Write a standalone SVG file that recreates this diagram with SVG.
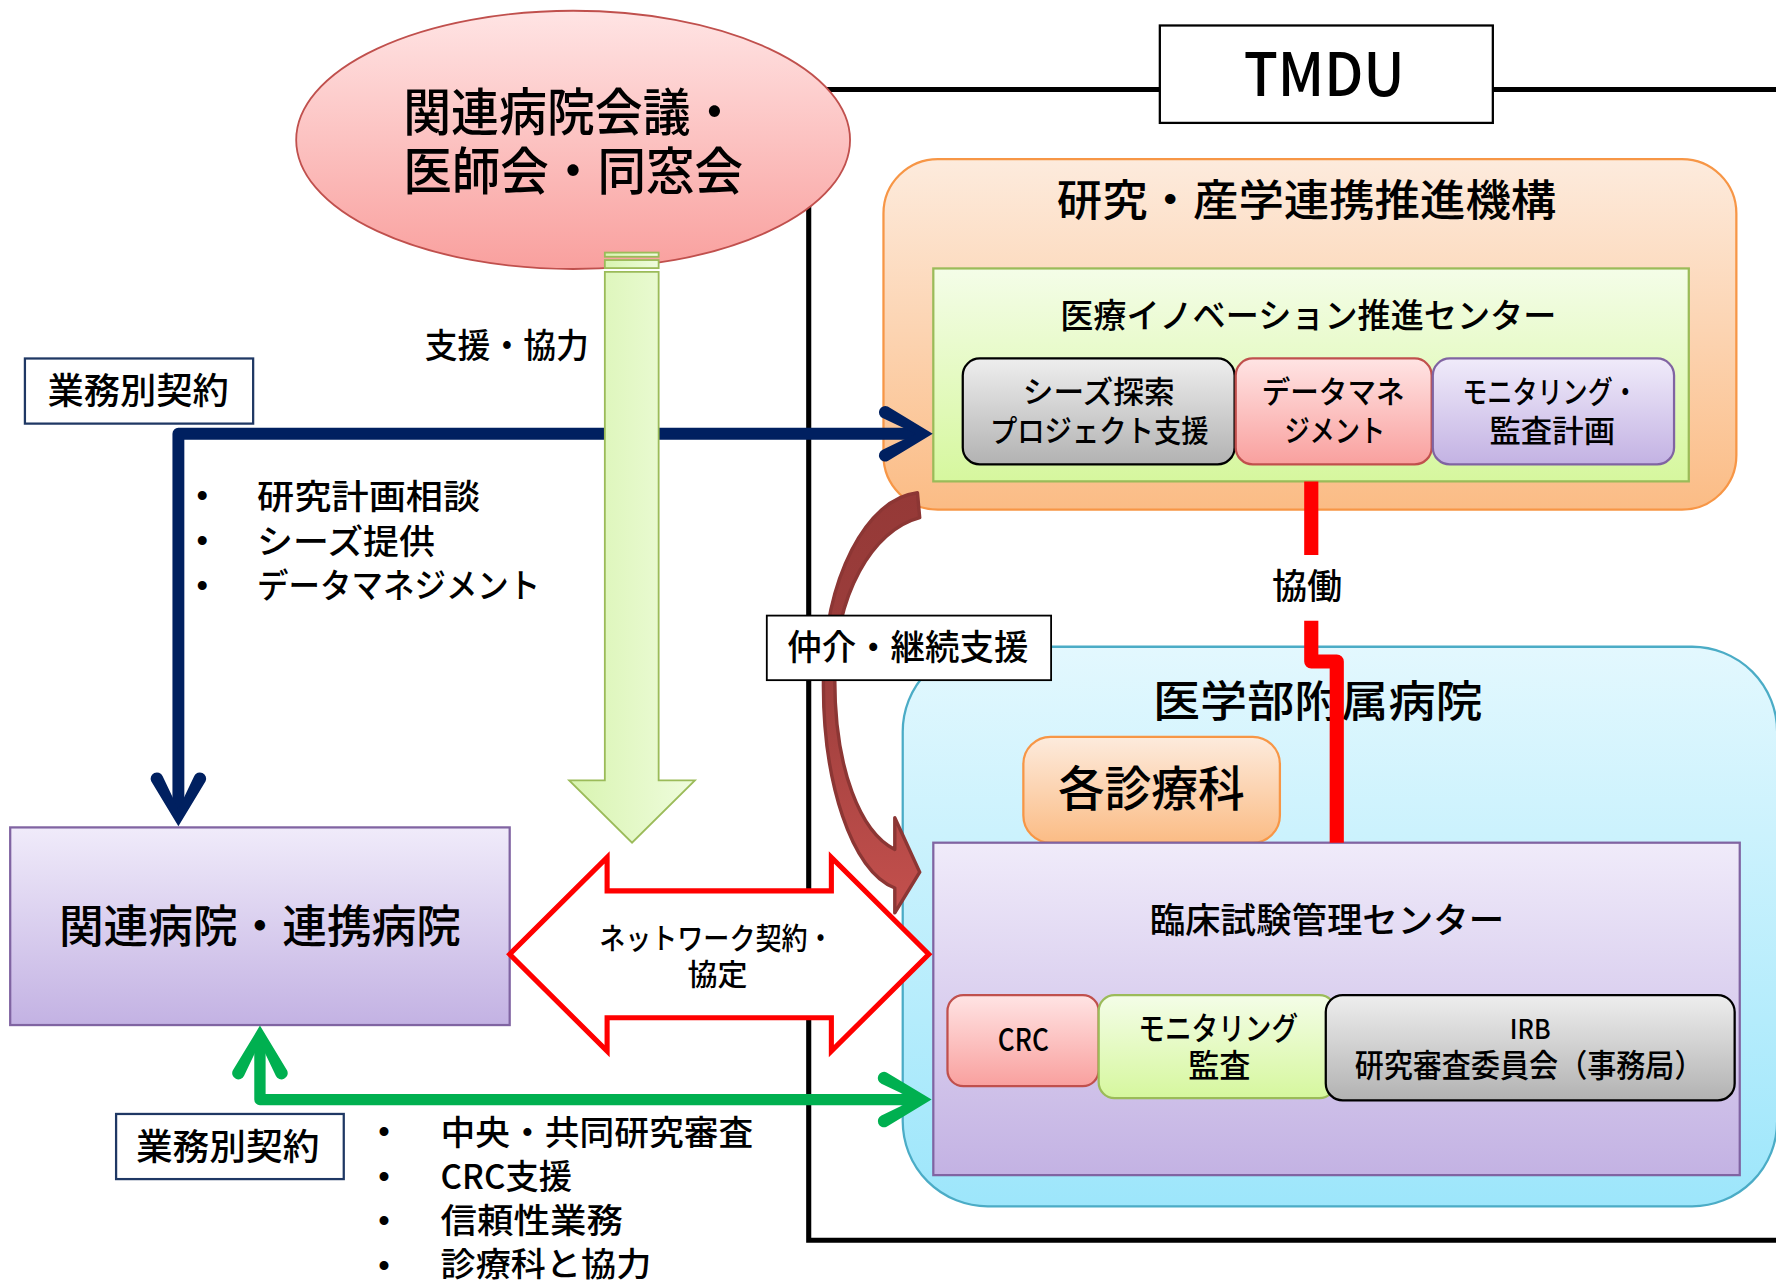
<svg xmlns="http://www.w3.org/2000/svg" xmlns:xlink="http://www.w3.org/1999/xlink" width="1776" height="1284" viewBox="0 0 1776 1284">
<defs>
<linearGradient id="gPink" x1="0" y1="0" x2="0" y2="1"><stop offset="0" stop-color="#FFE4E4"/><stop offset="1" stop-color="#F9A09E"/></linearGradient>
<linearGradient id="gOrange" x1="0" y1="0" x2="0" y2="1"><stop offset="0" stop-color="#FDEBDD"/><stop offset="1" stop-color="#FBBC85"/></linearGradient>
<linearGradient id="gLime" x1="0" y1="0" x2="0" y2="1"><stop offset="0" stop-color="#F4FDE8"/><stop offset="1" stop-color="#D6F79E"/></linearGradient>
<linearGradient id="gGray" x1="0" y1="0" x2="0" y2="1"><stop offset="0" stop-color="#EEEEEE"/><stop offset="1" stop-color="#B2B2B2"/></linearGradient>
<linearGradient id="gLav" x1="0" y1="0" x2="0" y2="1"><stop offset="0" stop-color="#F0EBFA"/><stop offset="1" stop-color="#C3B2E3"/></linearGradient>
<linearGradient id="gBlue" x1="0" y1="0" x2="0" y2="1"><stop offset="0" stop-color="#E3F8FE"/><stop offset="1" stop-color="#9DE6FB"/></linearGradient>
<linearGradient id="gArrow" x1="0" y1="0" x2="1" y2="0"><stop offset="0" stop-color="#D8F4B0"/><stop offset="1" stop-color="#EFFCDD"/></linearGradient>
<linearGradient id="gBrown" x1="0" y1="0" x2="0" y2="1"><stop offset="0" stop-color="#953937"/><stop offset="0.45" stop-color="#9E3F3D"/><stop offset="1" stop-color="#C4504D"/></linearGradient>
<path id="head" d="M0,0 L-39.7,-24 A5.5,5.5 0 0 0 -44.3,-14 L-15,0 L-44.3,14 A5.5,5.5 0 0 0 -39.7,24 Z"/>
</defs>
<style>
text{font-family:"Noto Sans CJK JP","Noto Sans",sans-serif;font-weight:500;fill:#000}
.b{font-family:"Liberation Sans",sans-serif;font-size:29px;font-weight:400}
.frame{fill:none;stroke:#000;stroke-width:4.5}
.lbl{fill:#fff;stroke:#000;stroke-width:1.6}
.lbn{fill:#fff;stroke:#1F3864;stroke-width:2}
.box{stroke-width:2}
</style>
<rect width="1776" height="1284" fill="#fff"/>
<g transform="scale(1.132653)">
<g id="tmdu">
<path class="frame" d="M1580,79 H714 V1095 H1580"/>
<rect x="1024" y="22.5" width="294" height="86" fill="#fff" stroke="#000" stroke-width="2"/>
<text x="1098" y="85" font-size="53" textLength="142" lengthAdjust="spacingAndGlyphs">TMDU</text>
</g>
<g id="council">
<ellipse cx="506" cy="123.5" rx="244.5" ry="114" fill="url(#gPink)" stroke="#C0504D" stroke-width="1.6"/>
<text x="356" y="116" font-size="45" textLength="296" lengthAdjust="spacingAndGlyphs">関連病院会議・</text>
<text x="356" y="168" font-size="45" textLength="300" lengthAdjust="spacingAndGlyphs">医師会・同窓会</text>
</g>
<g id="org">
<rect class="box" x="780" y="140.5" width="753" height="309.5" rx="48" fill="url(#gOrange)" stroke="#F79646"/>
<text x="933" y="191" font-size="38" textLength="441" lengthAdjust="spacingAndGlyphs">研究・産学連携推進機構</text>
</g>
<g id="innovation">
<rect class="box" x="824" y="237" width="667" height="188" fill="url(#gLime)" stroke="#9BBB59"/>
<text x="936" y="290" font-size="30" textLength="438" lengthAdjust="spacingAndGlyphs">医療イノベーション推進センター</text>
</g>
<g id="seeds">
<rect class="box" x="850" y="316.5" width="240" height="93.5" rx="15" fill="url(#gGray)" stroke="#000"/>
<text x="903" y="356" font-size="27" textLength="134" lengthAdjust="spacingAndGlyphs">シーズ探索</text>
<text x="874" y="390" font-size="27" textLength="193" lengthAdjust="spacingAndGlyphs">プロジェクト支援</text>
</g>
<g id="datamgmt">
<rect class="box" x="1091" y="316.5" width="173" height="93.5" rx="15" fill="url(#gPink)" stroke="#C0504D"/>
<text x="1114" y="356" font-size="27" textLength="126" lengthAdjust="spacingAndGlyphs">データマネ</text>
<text x="1134" y="390" font-size="27" textLength="89" lengthAdjust="spacingAndGlyphs">ジメント</text>
</g>
<g id="monitorplan">
<rect class="box" x="1265" y="316.5" width="213" height="93.5" rx="15" fill="url(#gLav)" stroke="#8064A2"/>
<text x="1291" y="356" font-size="27" textLength="155" lengthAdjust="spacingAndGlyphs">モニタリング・</text>
<text x="1315" y="390" font-size="27" textLength="111" lengthAdjust="spacingAndGlyphs">監査計画</text>
</g>
<g id="hospital">
<rect class="box" x="797" y="571" width="772" height="494" rx="75" fill="url(#gBlue)" stroke="#4BACC6"/>
<text x="1018" y="633" font-size="38" textLength="291" lengthAdjust="spacingAndGlyphs">医学部附属病院</text>
</g>
<g id="depts">
<rect class="box" x="903.5" y="650.5" width="226.5" height="93.5" rx="24" fill="url(#gOrange)" stroke="#F79646"/>
<text x="934" y="712" font-size="42" textLength="165" lengthAdjust="spacingAndGlyphs">各診療科</text>
</g>
<g id="ctmc">
<rect class="box" x="824" y="744" width="712" height="293.5" fill="url(#gLav)" stroke="#8064A2"/>
<text x="1015" y="824" font-size="31" textLength="313" lengthAdjust="spacingAndGlyphs">臨床試験管理センター</text>
</g>
<g id="crc">
<rect class="box" x="836.5" y="878.5" width="133.5" height="80.5" rx="14" fill="url(#gPink)" stroke="#C0504D"/>
<text x="881" y="928" font-size="27" textLength="45" lengthAdjust="spacingAndGlyphs">CRC</text>
</g>
<g id="monaudit">
<rect class="box" x="970" y="878.5" width="209" height="91" rx="14" fill="url(#gLime)" stroke="#9BBB59"/>
<text x="1005" y="918" font-size="28" textLength="141" lengthAdjust="spacingAndGlyphs">モニタリング</text>
<text x="1049" y="951" font-size="28" textLength="55" lengthAdjust="spacingAndGlyphs">監査</text>
</g>
<g id="irb">
<rect class="box" x="1170.5" y="878.5" width="361" height="93" rx="15" fill="url(#gGray)" stroke="#000"/>
<text x="1333" y="917" font-size="24" textLength="36" lengthAdjust="spacingAndGlyphs">IRB</text>
<text x="1196" y="951" font-size="28" textLength="308" lengthAdjust="spacingAndGlyphs">研究審査委員会（事務局）</text>
</g>
<g id="affiliated">
<rect class="box" x="9" y="730.5" width="441" height="174.5" fill="url(#gLav)" stroke="#8064A2"/>
<text x="52" y="833" font-size="40" textLength="355" lengthAdjust="spacingAndGlyphs">関連病院・連携病院</text>
</g>
<g id="contract-top">
<rect class="lbn" x="22" y="316.5" width="201.5" height="57.5"/>
<text x="42" y="357" font-size="32" textLength="160" lengthAdjust="spacingAndGlyphs">業務別契約</text>
</g>
<g id="contract-bottom">
<rect class="lbn" x="102.5" y="983.5" width="201" height="57.5"/>
<text x="120" y="1024" font-size="32" textLength="162" lengthAdjust="spacingAndGlyphs">業務別契約</text>
</g>
<g id="list-top">
<text class="b" x="178.5" y="448" text-anchor="middle">•</text>
<text class="b" x="178.5" y="487.5" text-anchor="middle">•</text>
<text class="b" x="178.5" y="527.5" text-anchor="middle">•</text>
<text x="227" y="449" font-size="30" textLength="197" lengthAdjust="spacingAndGlyphs">研究計画相談</text>
<text x="227" y="489" font-size="30" textLength="157" lengthAdjust="spacingAndGlyphs">シーズ提供</text>
<text x="227" y="528" font-size="30" textLength="250" lengthAdjust="spacingAndGlyphs">データマネジメント</text>
</g>
<g id="list-bottom">
<text class="b" x="339" y="1009" text-anchor="middle">•</text>
<text class="b" x="339" y="1048.5" text-anchor="middle">•</text>
<text class="b" x="339" y="1087.5" text-anchor="middle">•</text>
<text class="b" x="339" y="1127.5" text-anchor="middle">•</text>
<text x="389" y="1011" font-size="30" textLength="276" lengthAdjust="spacingAndGlyphs">中央・共同研究審査</text>
<text x="389" y="1050" font-size="30" textLength="116" lengthAdjust="spacingAndGlyphs">CRC支援</text>
<text x="389" y="1089" font-size="30" textLength="161" lengthAdjust="spacingAndGlyphs">信頼性業務</text>
<text x="389" y="1127" font-size="29" textLength="186" lengthAdjust="spacingAndGlyphs">診療科と協力</text>
</g>
<g id="connectors">
<path d="M810,383 H157.5 V716" fill="none" stroke="#002060" stroke-width="10.5" stroke-linejoin="round"/>
<use xlink:href="#head" href="#head" transform="translate(823.5,383)" fill="#002060"/>
<use xlink:href="#head" href="#head" transform="translate(157.5,729.5) rotate(90)" fill="#002060"/>
<g fill="url(#gArrow)" stroke="#9BBB59" stroke-width="1.6">
<rect x="534" y="223" width="47.5" height="3.7"/>
<rect x="534" y="229.6" width="47.5" height="7.1"/>
<path d="M534,240 H581.5 V689 H613.5 L558,744 L502.5,689 H534 Z"/>
</g>
<path d="M450,842.5 L536,757 V786.5 H734 V757 L820,842.5 L734,928 V898.5 H536 V928 Z" fill="#fff" stroke="#FF0000" stroke-width="4.5"/>
<path d="M229.5,918 V970.8 H810" fill="none" stroke="#00B050" stroke-width="10" stroke-linejoin="round"/>
<use xlink:href="#head" href="#head" transform="translate(229.5,905.5) rotate(-90)" fill="#00B050"/>
<use xlink:href="#head" href="#head" transform="translate(822.5,970.8)" fill="#00B050"/>
<path d="M810,435 C765,440 728,510 727,600 C726,690 752,770 790,784 L790,806 L812,770 L790,722 L790,750 C760,735 737,680 737,600 C737,525 770,468 812,457 Z" fill="url(#gBrown)" stroke="#8C3634" stroke-width="3" stroke-linejoin="round"/>
<path d="M1157.7,425 V490 M1157.7,548 V584 H1180.2 V744" fill="none" stroke="#FF0000" stroke-width="12.5" stroke-linejoin="round"/>
</g>
<g id="label-mediate">
<rect class="lbl" x="677" y="543.5" width="251" height="57"/>
<text x="695" y="583" font-size="31" textLength="213" lengthAdjust="spacingAndGlyphs">仲介・継続支援</text>
</g>
<g id="labels">
<text x="1123" y="529" font-size="31" textLength="62" lengthAdjust="spacingAndGlyphs">協働</text>
<text x="375" y="316" font-size="30" textLength="145" lengthAdjust="spacingAndGlyphs">支援・協力</text>
<text x="529" y="838" font-size="26" textLength="207" lengthAdjust="spacingAndGlyphs">ネットワーク契約・</text>
<text x="607" y="870" font-size="26" textLength="53" lengthAdjust="spacingAndGlyphs">協定</text>
</g>
</g>
</svg>
